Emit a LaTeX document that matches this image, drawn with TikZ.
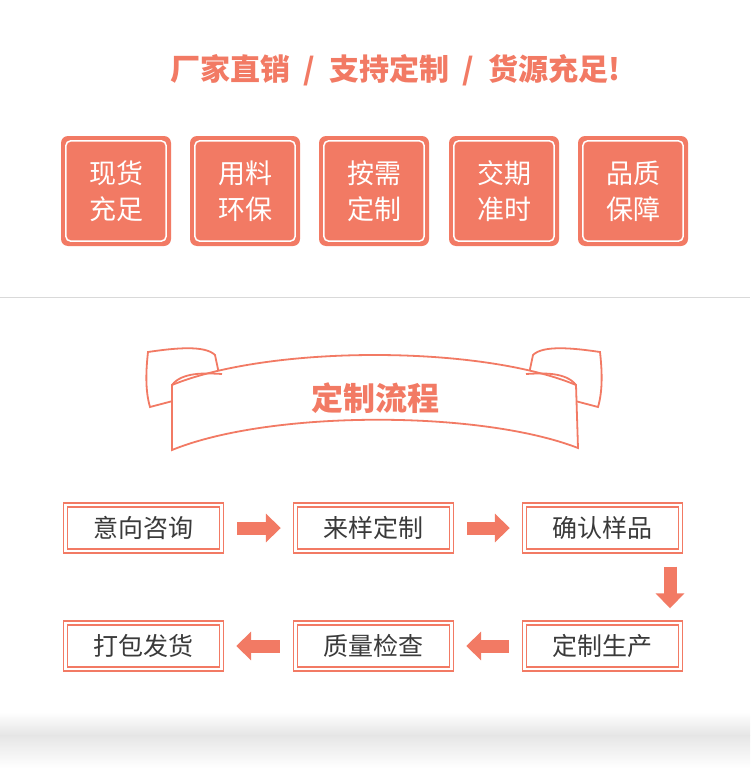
\documentclass[tikz,border=0pt]{standalone}
\usepackage{fontspec}
\newfontfamily\cjk{Noto Sans CJK SC}
\usetikzlibrary{calc, arrows.meta, positioning}
\definecolor{salmon}{HTML}{F27A64}
\definecolor{ink}{HTML}{3A3A3A}

\begin{document}
\begin{tikzpicture}[x=1pt,y=-1pt,
  badge/.style={fill=salmon, rounded corners=7pt, minimum width=110pt, minimum height=110pt,
    text=white, font=\cjk\fontsize{27}{36}\selectfont, align=center, inner sep=0pt},
  stage/.style={draw=salmon, line width=1.4pt, minimum width=156pt, minimum height=46pt,
    text=ink, font=\cjk\fontsize{25}{30}\selectfont, inner sep=0pt,
    double distance=2.4pt, double=white},
  flow/.style={salmon, line width=13pt, -{Triangle[length=15pt,width=28pt]}, shorten <=15pt, shorten >=14pt}]
\useasboundingbox (0,0) rectangle (750,768);
\fill[white] (0,0) rectangle (750,768);
% bottom shadow
\shade[top color=white, bottom color=black!10] (0,712) rectangle (750,735);
\shade[top color=black!10, bottom color=white] (0,735) rectangle (750,768);

\node[text=salmon, font=\cjk\bfseries\fontsize{30}{34}\selectfont] (slogan) at (395,70)
  {厂家直销\ \ /\ \ 支持定制\ \ /\ \ 货源充足!};

% badges
\foreach \x/\t [count=\i] in {116/{现货\\充足}, 245/{用料\\环保}, 374/{按需\\定制}, 504/{交期\\准时}, 633/{品质\\保障}}{
  \node[badge] (b\i) at (\x,191) {\t};
  \draw[white, line width=1.5pt, rounded corners=5pt]
    ($(b\i.north west)+(5,5)$) rectangle ($(b\i.south east)+(-5,-5)$);
}

\draw[black!15, line width=0.8pt] (0,297) -- (750,297);

% ribbon
\begin{scope}[draw=salmon, line width=1.8pt, fill=white]
  \filldraw (148,352) .. controls (175,348) and (205,345) .. (215,355)
    -- (222,388) -- (150,407) .. controls (145,390) and (146,370) .. (148,352) -- cycle;
  \filldraw (600,352) .. controls (573,348) and (543,345) .. (533,355)
    -- (526,388) -- (598,407) .. controls (603,390) and (602,370) .. (600,352) -- cycle;
  \filldraw (172,385) .. controls (270,345) and (480,345) .. (576,385)
    -- (578,448) .. controls (480,410) and (270,410) .. (172,450) -- cycle;
  \draw (172,385) .. controls (182,372) and (205,373) .. (222,374);
  \draw (576,385) .. controls (566,372) and (543,373) .. (526,374);
\end{scope}
\node[text=salmon, font=\cjk\bfseries\fontsize{32}{36}\selectfont] (banner) at (375,398) {定制流程};

% process stages
\node[stage] (s1) at (143.5,528) {意向咨询};
\node[stage] (s2) at (373.5,528) {来样定制};
\node[stage] (s3) at (602.5,528) {确认样品};
\node[stage] (s4) at (602.5,646) {定制生产};
\node[stage] (s5) at (373.5,646) {质量检查};
\node[stage] (s6) at (143.5,646) {打包发货};

\draw[flow] (s1) -- (s2);
\draw[flow] (s2) -- (s3);
\draw[flow] ($(s3.south)+(67.5,0)$) -- ($(s4.north)+(67.5,0)$);
\draw[flow] (s4) -- (s5);
\draw[flow] (s5) -- (s6);
\end{tikzpicture}
\end{document}
